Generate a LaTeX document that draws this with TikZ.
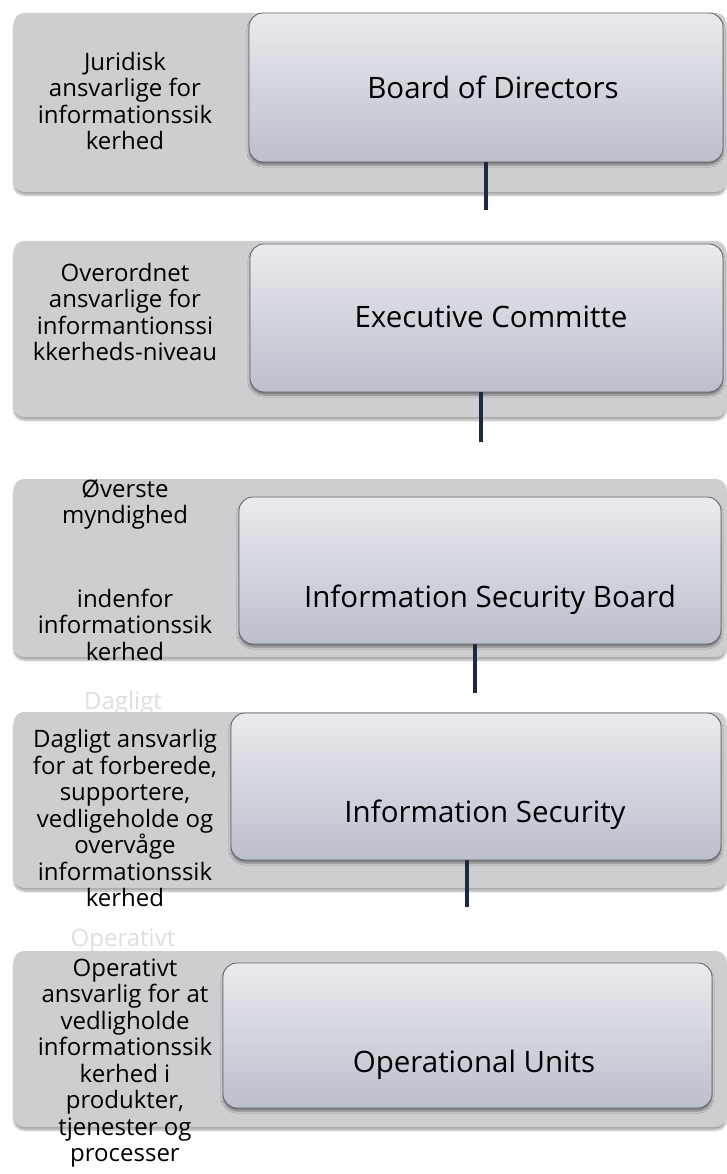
\documentclass[tikz,border=0pt]{standalone}
\usepackage{fontspec}
\setmainfont{Open Sans}
\usetikzlibrary{shadows.blur}
\definecolor{bandgray}{RGB}{206,206,209}
\definecolor{boxtop}{RGB}{234,234,238}
\definecolor{boxbottom}{RGB}{188,191,204}
\definecolor{boxline}{RGB}{96,96,100}
\definecolor{linknavy}{RGB}{30,42,66}
\definecolor{ghostgray}{RGB}{222,222,224}

\begin{document}
\begin{tikzpicture}[x=1pt, y=-1pt,
            band/.style={fill=bandgray, rounded corners=10pt,
                blur shadow={shadow xshift=0pt, shadow yshift=-3pt, shadow blur steps=6, shadow opacity=35}},
            box/.style={draw=boxline, line width=0.8pt, rounded corners=14pt,
                top color=boxtop, bottom color=boxbottom, inner sep=0pt, outer sep=0pt,
                blur shadow={shadow xshift=0pt, shadow yshift=-3pt, shadow blur steps=5, shadow opacity=40}},
            role/.style={align=center, font=\fontsize{24}{26.5}\selectfont},
            title/.style={font=\fontsize{29.5}{32}\selectfont},
            ghost/.style={text=ghostgray, font=\fontsize{24}{26.5}\selectfont},
            link/.style={draw=linknavy, line width=4.5pt}]
            \useasboundingbox (0,0) rectangle (727,1174);
            \node[ghost] (dagligt) at (123,703) {Dagligt};
            \node[ghost] (operativt) at (123,941) {Operativt};
            \fill[band] (14,13) rectangle (726,192);
            \fill[band] (14,241) rectangle (726,417);
            \fill[band] (14,479) rectangle (726,657);
            \fill[band] (14,712) rectangle (726,888);
            \fill[band] (14,951) rectangle (726,1127);
            \node[box, minimum width=474pt, minimum height=149pt] (bod) at (486,87.5) {};
            \node[box, minimum width=473pt, minimum height=148pt] (exec) at (486.5,318) {};
            \node[box, minimum width=482pt, minimum height=147pt] (isb) at (480,570.5) {};
            \node[box, minimum width=490pt, minimum height=147pt] (infosec) at (476,786.5) {};
            \node[box, minimum width=489pt, minimum height=145pt] (units) at (467.5,1035.5) {};
            \node[title] (bodtext) at (493,87) {Board of Directors};
            \node[title] (exectext) at (491,317) {Executive Committe};
            \node[title] (isbtext) at (490,600) {Information Security Board};
            \node[title] (infosectext) at (485,815) {Information Security};
            \node[title] (unitstext) at (474,1065) {Operational Units};
            \node[role] (bodrole) at (125,101) {Juridisk\\ansvarlige for\\informationssik\\kerhed};
            \node[role] (execrole) at (125,312) {Overordnet\\ansvarlige for\\informantionssi\\kkerheds-niveau};
            \node[role] (isbrole) at (125,570) {Øverste\\myndighed\\[57pt]indenfor\\informationssik\\kerhed};
            \node[role] (infosecrole) at (125,818) {Dagligt ansvarlig\\for at forberede,\\supportere,\\vedligeholde og\\overvåge\\informationssik\\kerhed};
            \node[role] (unitsrole) at (125,1063) {Operativt\\ansvarlig for at\\vedligholde\\informationssik\\kerhed i\\produkter,\\tjenester og\\processer};
            \coordinate (s1) at (486,210);
            \coordinate (s2) at (481,442);
            \coordinate (s3) at (475,693);
            \coordinate (s4) at (467,907);
            \draw[link] (s1 |- bod.south) -- (s1);
            \draw[link] (s2 |- exec.south) -- (s2);
            \draw[link] (s3 |- isb.south) -- (s3);
            \draw[link] (s4 |- infosec.south) -- (s4);
        \end{tikzpicture}
\end{document}
